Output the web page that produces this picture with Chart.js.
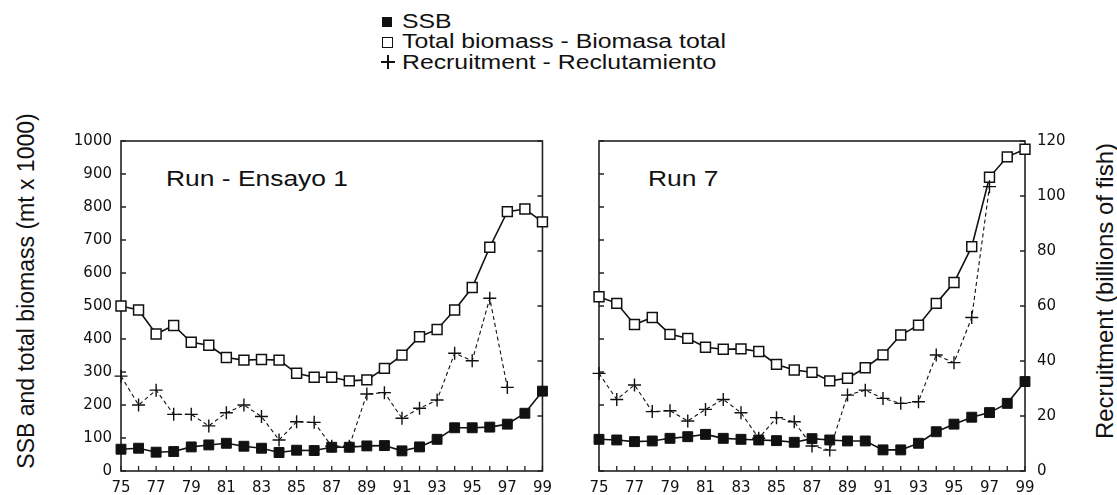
<!DOCTYPE html>
<html><head><meta charset="utf-8">
<script src="https://cdn.jsdelivr.net/npm/chart.js@4.4.0/dist/chart.umd.min.js"></script>
<style>
html,body{margin:0;padding:0;background:#fff;width:1117px;height:495px;overflow:hidden;position:relative;font-family:"Liberation Sans",Arial,sans-serif;color:#111}
canvas{position:absolute;top:100px}
#c1{left:0}
#c2{left:560px}
.t{position:absolute;white-space:nowrap;transform-origin:left top}
.lg{font-size:20px;line-height:20px;transform:scaleX(1.24);left:402px}
.ttl{font-size:22px;line-height:22px;transform:scaleX(1.2)}
.ax{position:absolute;white-space:nowrap;transform:translate(-50%,-50%) rotate(-90deg)}
.ic{position:absolute;box-sizing:border-box}
</style>
</head><body>
<div class="ic" style="left:382px;top:17px;width:10px;height:10px;background:#111"></div>
<div class="ic" style="left:382px;top:37px;width:11px;height:11px;border:1.5px solid #111;background:#fff"></div>
<div class="ic" style="left:381px;top:61px;width:14px;height:1.7px;background:#111"></div>
<div class="ic" style="left:387.2px;top:55px;width:1.7px;height:14px;background:#111"></div>
<div class="t lg" style="top:11px">SSB</div>
<div class="t lg" style="top:31px">Total biomass - Biomasa total</div>
<div class="t lg" style="top:52px">Recruitment - Reclutamiento</div>
<div class="t ttl" style="left:166px;top:168px">Run - Ensayo 1</div>
<div class="t ttl" style="left:648px;top:168px">Run 7</div>
<div class="ax" style="left:26px;top:291px;font-size:23px">SSB and total biomass (mt x 1000)</div>
<div class="ax" style="left:1105px;top:291px;font-size:24px">Recruitment (billions of fish)</div>
<canvas id="c1" width="560" height="395"></canvas>
<canvas id="c2" width="557" height="395"></canvas>
<script>
const years = ['75','76','77','78','79','80','81','82','83','84','85','86','87','88','89','90','91','92','93','94','95','96','97','98','99'];
const xTickLabels = ['75','77','79','81','83','85','87','89','91','93','95','97','99'];
const leftTicks = [0,100,200,300,400,500,600,700,800,900,1000];
const rightTicks = [0,20,40,60,80,100,120];

// Run - Ensayo 1
const run1Total = [500,488,415,441,390,381,344,336,338,336,296,284,284,273,276,311,351,407,429,488,556,678,786,794,755];
const run1SSB = [66,69,57,59,73,79,84,75,69,56,63,62,72,72,76,77,61,73,96,131,131,133,142,175,242];
const run1Recruit = [34.5,24,29.4,20.6,20.6,16.4,21.2,24,19.8,11.3,17.9,17.7,9,9,28,28.5,19.2,22.8,25.8,42.8,40.1,62.8,30.4,null,null];

// Run 7
const run7Total = [528,508,444,465,414,402,375,369,370,362,323,306,299,273,281,313,352,412,442,508,571,680,890,952,975];
const run7SSB = [96,94,89,91,99,104,111,99,96,94,92,87,98,94,91,91,64,64,84,119,142,163,177,205,271];
const run7Recruit = [35.5,26,31.3,21.6,21.9,18.2,22.4,26,21.2,11.9,19.4,17.9,9.1,7.6,27.6,29.4,26.4,24.6,25.2,42.2,39.4,55.8,103.4,null,null];

const INK = '#111';
const tickFont = {family:'DejaVu Sans', size:15};

const frame = {
  id:'frame',
  beforeDatasetsDraw(chart){
    const {ctx, chartArea:a, scales} = chart;
    const xs = scales.x, yl = scales.y, yr = scales.yRec;
    ctx.save();
    ctx.strokeStyle = '#222';
    ctx.lineWidth = 1.6;
    ctx.strokeRect(a.left, a.top, a.right - a.left, a.bottom - a.top);
    ctx.lineWidth = 1.3;
    ctx.beginPath();
    for (let i = 0; i < years.length; i++) {
      const x = xs.getPixelForValue(i);
      ctx.moveTo(x, a.bottom); ctx.lineTo(x, a.bottom - 5);
    }
    for (const v of leftTicks) {
      const y = yl.getPixelForValue(v);
      ctx.moveTo(a.left, y); ctx.lineTo(a.left + 5, y);
    }
    for (const v of rightTicks) {
      const y = yr.getPixelForValue(v);
      ctx.moveTo(a.right, y); ctx.lineTo(a.right - 5, y);
    }
    ctx.stroke();
    ctx.restore();
  }
};

function datasets(total, ssb, rec){
  return [
    {label:'Recruitment - Reclutamiento', data:rec, yAxisID:'yRec', borderColor:INK, borderWidth:1.1, borderDash:[4,3],
     pointStyle:'cross', pointRadius:6.5, pointBorderWidth:1.4, pointBorderColor:INK, spanGaps:false, clip:false},
    {label:'SSB', data:ssb, yAxisID:'y', borderColor:INK, borderWidth:1.6,
     pointStyle:'rect', pointRadius:7, pointBackgroundColor:INK, pointBorderColor:INK, pointBorderWidth:1, clip:false},
    {label:'Total biomass - Biomasa total', data:total, yAxisID:'y', borderColor:INK, borderWidth:1.6,
     pointStyle:'rect', pointRadius:7, pointBackgroundColor:'#fff', pointBorderColor:INK, pointBorderWidth:1.5, clip:false}
  ];
}

function makeChart(id, total, ssb, rec, leftLabels, leftW, rightW){
  return new Chart(document.getElementById(id), {
    type:'line',
    data:{labels:years, datasets:datasets(total, ssb, rec)},
    options:{
      responsive:false, animation:false, devicePixelRatio:1,
      layout:{padding:{top:41,left:0,right:0,bottom:0}},
      plugins:{legend:{display:false}, tooltip:{enabled:false}},
      elements:{line:{tension:0}},
      scales:{
        x:{type:'category', offset:false, grid:{display:false, drawTicks:false}, border:{display:false},
           ticks:{autoSkip:false, maxRotation:0, minRotation:0, padding:8, color:INK, font:tickFont,
                  callback:(v,i)=> xTickLabels.includes(years[i]) ? years[i] : ''},
           afterFit:s=>{s.height = 24;}},
        y:{type:'linear', axis:'y', position:'left', min:0, max:1000,
           grid:{display:false, drawTicks:false}, border:{display:false},
           ticks:{display:leftLabels, padding:9, color:INK, font:tickFont, callback:v=>String(v)},
           afterBuildTicks:s=>{s.ticks = leftTicks.map(v=>({value:v}));},
           afterFit:s=>{s.width = leftW;}},
        yRec:{type:'linear', axis:'y', position:'right', min:0, max:120,
           grid:{display:false, drawTicks:false}, border:{display:false},
           ticks:{display:!leftLabels, padding:12, color:INK, font:tickFont, callback:v=>String(v)},
           afterBuildTicks:s=>{s.ticks = rightTicks.map(v=>({value:v}));},
           afterFit:s=>{s.width = rightW;}}
      }
    },
    plugins:[frame]
  });
}

makeChart('c1', run1Total, run1SSB, run1Recruit, true, 121, 14);
makeChart('c2', run7Total, run7SSB, run7Recruit, false, 39, 92);
</script>
</body></html>
